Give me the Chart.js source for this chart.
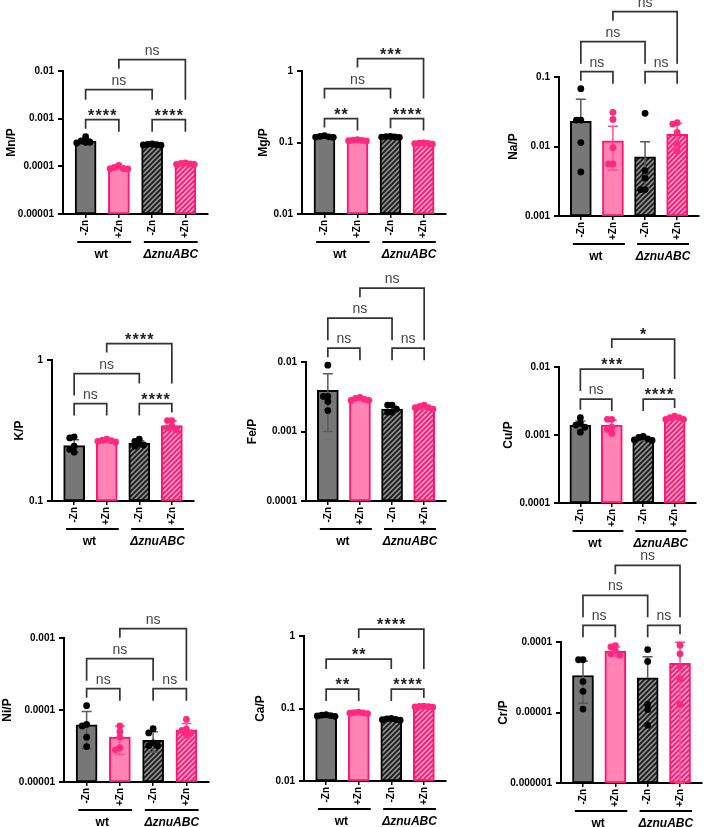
<!DOCTYPE html>
<html>
<head>
<meta charset="utf-8">
<script src="https://cdn.jsdelivr.net/npm/chart.js@4.4.0/dist/chart.umd.min.js"></script>
<style>
  body { margin: 0; background: #fff; width: 708px; height: 827px; position: relative; overflow: hidden; }
  canvas { position: absolute; }
</style>
</head>
<body>
<script>
// categories
var groups = ['-Zn', '+Zn', '-Zn', '+Zn'];
var strains = ['wt', 'ΔznuABC'];
// significance for pairs: wt -/+, Δ -/+, -Zn wt/Δ, +Zn wt/Δ

var mnMean = [3.4e-4, 9.3e-5, 2.85e-4, 1.13e-4];
var mnSd = [4e-5, 7e-6, 7e-6, 4e-6];
var mnPoints = [[4.2e-4, 3.4e-4, 3.2e-4, 3.1e-4, 3.2e-4], [1.05e-4, 9.5e-5, 9e-5, 8.8e-5, 8.9e-5], [2.95e-4, 2.9e-4, 2.85e-4, 2.8e-4, 2.78e-4], [1.18e-4, 1.15e-4, 1.12e-4, 1.1e-4, 1.1e-4]];
var mnSig = ['****', '****', 'ns', 'ns'];

var mgMean = [0.121, 0.107, 0.12, 0.097];
var mgSd = [0.003, 0.002, 0.002, 0.002];
var mgPoints = [[0.125, 0.122, 0.12, 0.119, 0.118], [0.11, 0.108, 0.107, 0.106, 0.105], [0.122, 0.121, 0.12, 0.119, 0.118], [0.099, 0.098, 0.097, 0.096, 0.095]];
var mgSig = ['**', '****', 'ns', '***'];

var naMean = [0.023, 0.0121, 0.0071, 0.015];
var naSd = [0.025, 0.0075, 0.0046, 0.0064];
var naPoints = [[0.068, 0.024, 0.024, 0.0114, 0.0043], [0.031, 0.0245, 0.0096, 0.0056, 0.0056], [0.03, 0.0045, 0.0035, 0.0024, 0.0024], [0.022, 0.021, 0.016, 0.011, 0.0085]];
var naSig = ['ns', 'ns', 'ns', 'ns'];

var kMean = [0.247, 0.268, 0.257, 0.343];
var kSd = [0.025, 0.005, 0.01, 0.025];
var kPoints = [[0.285, 0.28, 0.245, 0.232, 0.222], [0.275, 0.27, 0.268, 0.265, 0.262], [0.275, 0.265, 0.255, 0.25, 0.245], [0.372, 0.372, 0.34, 0.33, 0.32]];
var kSig = ['ns', '****', 'ns', '****'];

var feMean = [0.0039, 0.0029, 0.0021, 0.0022];
var feSd = [0.0029, 0.0001, 0.0002, 0.0001];
var fePoints = [[0.009, 0.0032, 0.0032, 0.0027, 0.002], [0.0031, 0.003, 0.0029, 0.0028, 0.0028], [0.0024, 0.0024, 0.0021, 0.0019, 0.0019], [0.0024, 0.0023, 0.0022, 0.0022, 0.0021]];
var feSig = ['ns', 'ns', 'ns', 'ns'];

var cuMean = [0.0014, 0.0014, 0.00088, 0.0018];
var cuSd = [0.0002, 0.00025, 0.00005, 0.0001];
var cuPoints = [[0.0018, 0.0015, 0.0014, 0.0013, 0.0011], [0.0017, 0.0017, 0.0013, 0.0012, 0.00105], [0.00095, 0.00092, 0.00088, 0.00085, 0.00083], [0.0019, 0.0018, 0.0018, 0.0017, 0.0017]];
var cuSig = ['ns', '****', '***', '*'];

var niMean = [6.2e-5, 4.2e-5, 3.8e-5, 5.3e-5];
var niSd = [3.3e-5, 1.8e-5, 1.2e-5, 1.2e-5];
var niPoints = [[1.15e-4, 6.3e-5, 6e-5, 4.2e-5, 3.1e-5], [6e-5, 5e-5, 4.2e-5, 3e-5, 2.8e-5], [5.5e-5, 4.8e-5, 3.5e-5, 3.2e-5, 3.2e-5], [7.4e-5, 5.4e-5, 5.2e-5, 4.8e-5, 4.5e-5]];
var niSig = ['ns', 'ns', 'ns', 'ns'];

var caMean = [0.08, 0.087, 0.071, 0.106];
var caSd = [0.002, 0.002, 0.002, 0.002];
var caPoints = [[0.082, 0.081, 0.08, 0.079, 0.078], [0.089, 0.088, 0.087, 0.086, 0.085], [0.073, 0.072, 0.071, 0.07, 0.069], [0.108, 0.107, 0.106, 0.105, 0.104]];
var caSig = ['**', '****', '**', '****'];

var crMean = [3.35e-5, 7.4e-5, 3.1e-5, 5.0e-5];
var crSd = [2.0e-5, 1.1e-5, 3.1e-5, 4.9e-5];
var crPoints = [[5.6e-5, 5.6e-5, 2.75e-5, 2.0e-5, 1.12e-5], [8.9e-5, 8.5e-5, 7.5e-5, 6.8e-5, 6.5e-5], [7.8e-5, 5.3e-5, 1.3e-5, 1.1e-5, 6.6e-6], [9e-5, 6.8e-5, 4.5e-5, 3e-5, 1.3e-5]];
var crSig = ['ns', 'ns', 'ns', 'ns'];

var FONT = 'Arial, "Liberation Sans", sans-serif';
Chart.defaults.font.family = FONT;
Chart.defaults.color = '#000';

function makeHatch(bg, fg) {
    var s = 5;
    var c = document.createElement('canvas');
    c.width = s; c.height = s;
    var g = c.getContext('2d');
    g.fillStyle = bg;
    g.fillRect(0, 0, s, s);
    g.strokeStyle = fg;
    g.lineWidth = 1.8;
    g.beginPath();
    g.moveTo(-1, s + 1); g.lineTo(s + 1, -1);
    g.moveTo(-s / 2 - 1, s / 2 + 1); g.lineTo(s / 2 + 1, -s / 2 - 1);
    g.moveTo(s / 2 - 1, s * 1.5 + 1); g.lineTo(s * 1.5 + 1, s / 2 - 1);
    g.stroke();
    return g.createPattern(c, 'repeat');
}

var greyFill = '#777777', pinkFill = '#ff84b4', pinkLine = '#ff1472';
var hatchGrey = makeHatch('#8e8e8e', '#1c1c1c');
var hatchPink = makeHatch('#ffa3c8', '#ff1472');

var cols = [0, 236, 472], rowTop = [0, 262, 542], rowH = [278, 290, 285];

var panels = [
    {title: 'Mn/P', min: 1e-5, max: 1e-2, mean: mnMean, sd: mnSd, points: mnPoints, sig: mnSig, frame: {axis: [63, 208], plot: [71, 214], titleX: 12}},
    {title: 'Mg/P', min: 1e-2, max: 1, mean: mgMean, sd: mgSd, points: mgPoints, sig: mgSig, frame: {axis: [302, 446], plot: [71, 214], titleX: 264}},
    {title: 'Na/P', min: 1e-3, max: 1e-1, mean: naMean, sd: naSd, points: naPoints, sig: naSig, frame: {axis: [559, 699], plot: [77, 216], titleX: 514}},
    {title: 'K/P', min: 0.1, max: 1, mean: kMean, sd: kSd, points: kPoints, sig: kSig, frame: {axis: [52, 194], plot: [360, 501], titleX: 20}},
    {title: 'Fe/P', min: 1e-4, max: 1e-2, mean: feMean, sd: feSd, points: fePoints, sig: feSig, frame: {axis: [306, 446], plot: [362, 501], titleX: 253}},
    {title: 'Cu/P', min: 1e-4, max: 1e-2, mean: cuMean, sd: cuSd, points: cuPoints, sig: cuSig, frame: {axis: [559, 696], plot: [367, 503], titleX: 509}},
    {title: 'Ni/P', min: 1e-5, max: 1e-3, mean: niMean, sd: niSd, points: niPoints, sig: niSig, frame: {axis: [64, 209], plot: [638, 782], titleX: 8}},
    {title: 'Ca/P', min: 1e-2, max: 1, mean: caMean, sd: caSd, points: caPoints, sig: caSig, frame: {axis: [304, 446], plot: [636, 781], titleX: 261}},
    {title: 'Cr/P', min: 1e-6, max: 1e-4, mean: crMean, sd: crSd, points: crPoints, sig: crSig, frame: {axis: [561, 702], plot: [642, 783], titleX: 504}}
];

// spread dots sideways when they overlap (like a scatter dot plot)
function swarm(ys, r) {
    var step = r * 1.3;
    var placed = [];
    var xs = new Array(ys.length);
    var order = ys.map(function (y, i) { return i; }).sort(function (a, b) { return ys[a] - ys[b]; });
    order.forEach(function (i) {
        var cands = [0, -1, 1, -2, 2, -3, 3];
        var dx = 0;
        for (var k = 0; k < cands.length; k++) {
            dx = cands[k] * step;
            var ok = placed.every(function (p) { return Math.hypot(p.x - dx, p.y - ys[i]) >= step; });
            if (ok) break;
        }
        xs[i] = dx;
        placed.push({x: dx, y: ys[i]});
    });
    return xs;
}

function makeMarks(pn) {
    return {
        id: 'marks',
        afterDatasetsDraw: function (chart) {
            var ctx = chart.ctx, xs = chart.scales.x, ys = chart.scales.y, area = chart.chartArea;
            var r = 3.4;
            ctx.save();

            // error bars (mean +/- SD)
            pn.mean.forEach(function (m, i) {
                var x = xs.getPixelForValue(i);
                var hi = ys.getPixelForValue(m + pn.sd[i]);
                var low = m - pn.sd[i];
                var lo = low > ys.min ? ys.getPixelForValue(low) : ys.getPixelForValue(m);
                ctx.strokeStyle = i % 2 ? '#ff4d94' : '#5a5a5a';
                ctx.lineWidth = 1.5;
                ctx.beginPath();
                ctx.moveTo(x, hi); ctx.lineTo(x, lo);
                ctx.moveTo(x - 5, hi); ctx.lineTo(x + 5, hi);
                if (low > ys.min) { ctx.moveTo(x - 5, lo); ctx.lineTo(x + 5, lo); }
                ctx.stroke();
            });

            // individual points
            pn.points.forEach(function (vals, i) {
                var cx = xs.getPixelForValue(i);
                var py = vals.map(function (v) { return ys.getPixelForValue(v); });
                var dx = swarm(py, r);
                ctx.fillStyle = i % 2 ? '#ff2a7f' : '#000';
                py.forEach(function (y, k) {
                    ctx.beginPath();
                    ctx.arc(cx + dx[k], y, r, 0, 2 * Math.PI);
                    ctx.fill();
                });
            });

            // comparison brackets
            var tops = pn.points.map(function (vals, i) {
                return ys.getPixelForValue(Math.max(Math.max.apply(null, vals), pn.mean[i] + pn.sd[i]));
            });
            var px = [0, 1, 2, 3].map(function (i) { return xs.getPixelForValue(i); });
            var l0 = Math.min.apply(null, tops) - 17, l1 = l0 - 30, l2 = l1 - 30;
            function leg0(i) { return l0 + Math.max(4, Math.min(12, tops[i] - 8 - l0)); }
            function under(s) { return l0 - (s === 'ns' ? 8 : 20); }
            var br = [
                [0, 1, l0, leg0(0), leg0(1), pn.sig[0]],
                [2, 3, l0, leg0(2), leg0(3), pn.sig[1]],
                [0, 2, l1, under(pn.sig[0]), under(pn.sig[1]), pn.sig[2]],
                [1, 3, l2, l2 + 9, under(pn.sig[1]), pn.sig[3]]
            ];
            ctx.textAlign = 'center';
            ctx.textBaseline = 'alphabetic';
            br.forEach(function (b) {
                ctx.strokeStyle = '#333';
                ctx.lineWidth = 1.7;
                ctx.beginPath();
                ctx.moveTo(px[b[0]], b[3]);
                ctx.lineTo(px[b[0]], b[2]);
                ctx.lineTo(px[b[1]], b[2]);
                ctx.lineTo(px[b[1]], b[4]);
                ctx.stroke();
                var mx = (px[b[0]] + px[b[1]]) / 2;
                if (b[5] === 'ns') {
                    ctx.letterSpacing = '0px';
                    ctx.font = '14px ' + FONT;
                    ctx.fillStyle = '#444';
                    ctx.fillText('ns', mx, b[2] - 5);
                } else {
                    ctx.letterSpacing = '1.2px';
                    ctx.font = 'bold 16px ' + FONT;
                    ctx.fillStyle = '#222';
                    ctx.fillText(b[5], mx + 0.6, b[2] + 1);
                }
            });
            ctx.letterSpacing = '0px';

            // strain labels under the axis
            var gy = area.bottom + 28;
            ctx.textBaseline = 'middle';
            strains.forEach(function (name, g) {
                var a = xs.getPixelForValue(g * 2 - 0.25), b = xs.getPixelForValue(g * 2 + 1.37);
                ctx.strokeStyle = '#000';
                ctx.lineWidth = 2;
                ctx.beginPath();
                ctx.moveTo(a, gy); ctx.lineTo(b, gy);
                ctx.stroke();
                ctx.font = (g ? 'italic bold' : 'bold') + ' 12px ' + FONT;
                ctx.fillStyle = '#000';
                ctx.fillText(name, (a + b) / 2 - (g ? 0 : 3), gy + 13);
            });
            ctx.restore();
        }
    };
}

panels.forEach(function (pn, k) {
    var left = cols[k % 3], top = rowTop[Math.floor(k / 3)], w = 236, h = rowH[Math.floor(k / 3)];
    var f = pn.frame;
    var cv = document.createElement('canvas');
    cv.width = w; cv.height = h;
    cv.style.left = left + 'px';
    cv.style.top = top + 'px';
    document.body.appendChild(cv);

    new Chart(cv, {
        type: 'bar',
        data: {
            datasets: [{
                data: pn.mean.map(function (m, i) { return {x: i, y: m}; }),
                backgroundColor: [greyFill, pinkFill, hatchGrey, hatchPink],
                borderColor: ['#000', pinkLine, '#000', pinkLine],
                borderWidth: 2,
                borderSkipped: false,
                barThickness: 21
            }]
        },
        options: {
            responsive: false,
            animation: false,
            events: [],
            layout: {padding: {top: f.plot[0] - top, right: left + w - f.axis[1], left: 0, bottom: 0}},
            plugins: {legend: {display: false}, tooltip: {enabled: false}},
            scales: {
                x: {
                    type: 'linear',
                    min: -0.68,
                    max: 3.68,
                    offset: false,
                    afterFit: function (s) { s.height = top + h - f.plot[1]; },
                    afterBuildTicks: function (s) {
                        s.ticks = groups.map(function (g, i) { return {value: i}; });
                    },
                    ticks: {
                        autoSkip: false,
                        minRotation: 90,
                        maxRotation: 90,
                        padding: 2,
                        font: {size: 10, weight: 'bold'},
                        callback: function (v) { return groups[v]; }
                    },
                    grid: {drawOnChartArea: false, offset: false, color: '#000', lineWidth: 1.5, tickLength: 4},
                    border: {color: '#000', width: 2}
                },
                y: {
                    type: 'logarithmic',
                    min: pn.min,
                    max: pn.max,
                    afterFit: function (s) { s.width = f.axis[0] - left; },
                    afterBuildTicks: function (s) {
                        var t = [];
                        for (var e = Math.round(Math.log10(pn.min)); e <= Math.round(Math.log10(pn.max)); e++) {
                            t.push({value: Number('1e' + e)});
                        }
                        s.ticks = t;
                    },
                    ticks: {
                        padding: 4,
                        font: {size: 10, weight: 'bold'},
                        callback: function (v) { return String(v); }
                    },
                    title: {
                        display: true,
                        text: pn.title,
                        font: {size: 12, weight: 'bold'},
                        padding: {top: f.titleX - left - 7.2, bottom: 0}
                    },
                    grid: {drawOnChartArea: false, color: '#000', lineWidth: 2, tickLength: 5},
                    border: {color: '#000', width: 2}
                }
            }
        },
        plugins: [makeMarks(pn)]
    });
});
</script>
</body>
</html>
